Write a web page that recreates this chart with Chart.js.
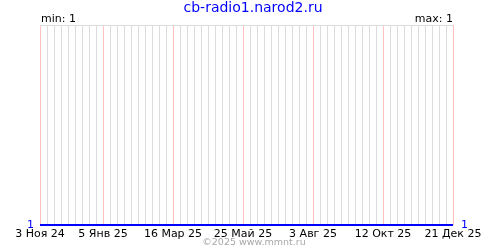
<!DOCTYPE html>
<html>
<head>
<meta charset="utf-8">
<script src="https://cdn.jsdelivr.net/npm/chart.js@4"></script>
<style>
  html, body { margin: 0; padding: 0; background: #fff; }
  #wrap { width: 500px; height: 250px; }
</style>
</head>
<body>
<div id="wrap"><canvas id="c" width="500" height="250"></canvas></div>
<script>
// дни от 3 Ноя 24
const dayPos = [0, 63, 133, 203, 273, 343, 413];
const dayLabels = ['3 Ноя 24', '5 Янв 25', '16 Мар 25', '25 Май 25', '3 Авг 25', '12 Окт 25', '21 Дек 25'];
const visits = [1, 1, 1, 1, 1, 1, 1];
const siteTitle = 'cb-radio1.narod2.ru';
const footer = '©2025 www.mmnt.ru';
const minText = 'min: 1';
const maxText = 'max: 1';

const FONT = 'DejaVu Sans';

const textPlugin = {
    id: 'texts',
    afterDraw(chart) {
        const ctx = chart.ctx;
        const a = chart.chartArea;
        ctx.save();
        ctx.textBaseline = 'middle';
        ctx.font = '14px ' + FONT;
        ctx.fillStyle = '#0000ff';
        ctx.textAlign = 'center';
        ctx.fillText(siteTitle, 253, 8);

        ctx.font = '11px ' + FONT;
        ctx.fillStyle = '#000';
        ctx.textAlign = 'left';
        ctx.fillText(minText, a.left + 1, 19);
        ctx.textAlign = 'right';
        ctx.fillText(maxText, a.right, 19);

        ctx.font = '9.5px ' + FONT;
        ctx.fillStyle = '#a8a8a8';
        ctx.textAlign = 'center';
        ctx.fillText(footer, 254, 243);
        ctx.restore();
    }
};

// розовые линии там, где подписи дат
const isMajor = v => dayPos.some(d => Math.abs(d - v) < 0.5);

const yTicks = {
    color: '#0000ff',
    font: { family: FONT, size: 11 },
    padding: 6,
    stepSize: 1,
    callback: v => (v === 1 ? '1' : '')
};

new Chart(document.getElementById('c'), {
    type: 'line',
    data: {
        datasets: [{
            data: dayPos.map((d, i) => ({ x: d, y: visits[i] })),
            borderColor: '#0000ff',
            borderWidth: 2,
            pointRadius: 0,
            tension: 0,
            clip: false,
            yAxisID: 'y'
        }]
    },
    options: {
        responsive: false,
        animation: false,
        devicePixelRatio: 1,
        layout: { padding: { top: 25, left: 0, right: 0, bottom: 0 } },
        plugins: { legend: { display: false }, tooltip: { enabled: false }, title: { display: false } },
        scales: {
            x: {
                type: 'linear',
                min: 0,
                max: 413,
                border: { display: false },
                grid: {
                    drawTicks: false,
                    lineWidth: 1,
                    color: c => (c.tick && isMajor(c.tick.value) ? '#ffc0c0' : '#dcdcdc')
                },
                ticks: {
                    stepSize: 7,
                    autoSkip: false,
                    maxRotation: 0,
                    padding: 3,
                    color: '#000',
                    font: { family: FONT, size: 11 },
                    callback: v => {
                        const i = dayPos.findIndex(d => Math.abs(d - v) < 0.5);
                        return i >= 0 ? dayLabels[i] : '';
                    }
                },
                afterFit: s => { s.height = 25; }
            },
            y: {
                position: 'left',
                min: 1,
                max: 2,
                border: { display: false },
                grid: {
                    drawTicks: false,
                    color: c => (c.tick && c.tick.value === 2 ? '#dcdcdc' : 'rgba(0,0,0,0)')
                },
                ticks: yTicks,
                afterFit: s => { s.width = 40; }
            },
            y2: {
                position: 'right',
                min: 1,
                max: 2,
                border: { display: false },
                grid: { display: false, drawTicks: false },
                ticks: Object.assign({}, yTicks, { padding: 8 }),
                afterFit: s => { s.width = 47; }
            }
        }
    },
    plugins: [textPlugin]
});
</script>
</body>
</html>
